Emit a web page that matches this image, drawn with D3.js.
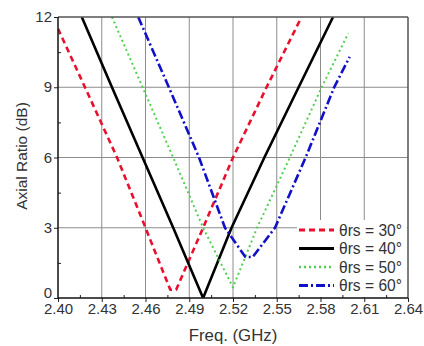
<!DOCTYPE html>
<meta charset="utf-8">
<title>Axial ratio vs frequency</title>
<style>
  body { margin: 0; padding: 0; background: #fff; }
  svg { display: block; font-family: "Liberation Sans", Arial, sans-serif; }
  .grid line { stroke: #8c8c8c; stroke-width: 1; }
  .axis text { font-size: 15px; fill: #333; }
  .axis path { display: none; }
  .axis line { stroke: #222; }
  .curve { fill: none; stroke-linejoin: round; }
  .legend text { font-size: 15.6px; fill: #333; }
</style>
<body>
<script src="https://cdn.jsdelivr.net/npm/d3@7"></script>
<script>
  // data
  const freqTicks = [2.40, 2.43, 2.46, 2.49, 2.52, 2.55, 2.58, 2.61, 2.64];
  const arTicks = [0, 3, 6, 9, 12];

  const theta30 = [[2.400, 11.5], [2.4185, 9], [2.4405, 6], [2.460, 3], [2.477, 0.35], [2.481, 0.35],
                   [2.4995, 3], [2.520, 6], [2.543, 9], [2.567, 12]];
  const theta40 = [[2.4163, 12], [2.437, 9], [2.458, 6], [2.479, 3], [2.4995, 0],
                   [2.519, 3], [2.5415, 6], [2.565, 9], [2.5886, 12]];
  const theta50 = [[2.437, 12], [2.458, 9], [2.479, 6], [2.4995, 3], [2.520, 0.45],
                   [2.5365, 3], [2.559, 6], [2.5808, 9], [2.599, 11.3]];
  const theta60 = [[2.455, 12], [2.476, 9], [2.4967, 6], [2.5145, 3], [2.5285, 1.75], [2.5335, 1.75],
                   [2.5488, 3], [2.5698, 6], [2.5894, 9], [2.600, 10.3]];

  const seriesNames = ["θrs = 30°", "θrs = 40°", "θrs = 50°", "θrs = 60°"];

  const series = [
    { name: seriesNames[0], data: theta30, color: "#e8102e", width: 2.6, dash: "6,4" },
    { name: seriesNames[1], data: theta40, color: "#000000", width: 2.6, dash: null },
    { name: seriesNames[2], data: theta50, color: "#4fd04f", width: 2, dash: "2,3" },
    { name: seriesNames[3], data: theta60, color: "#1010c8", width: 2.6, dash: "9,3,2,3" }
  ];

  const width = 424, height = 346;
  const mLeft = 58, mRight = 408, mTop = 17, mBottom = 298;

  const x = d3.scaleLinear().domain([2.40, 2.64]).range([mLeft, mRight]);
  const y = d3.scaleLinear().domain([0, 12]).range([mBottom, mTop]);

  const svg = d3.select("body").append("svg")
    .attr("width", width)
    .attr("height", height);

  // grid
  const grid = svg.append("g").attr("class", "grid");
  grid.selectAll(".gx").data(freqTicks.slice(1, -1)).enter().append("line")
    .attr("x1", d => x(d)).attr("x2", d => x(d))
    .attr("y1", mTop).attr("y2", mBottom);
  grid.selectAll(".gy").data(arTicks.slice(1, -1)).enter().append("line")
    .attr("x1", mLeft).attr("x2", mRight)
    .attr("y1", d => y(d)).attr("y2", d => y(d));

  svg.append("defs").append("clipPath").attr("id", "plot")
    .append("rect").attr("x", mLeft).attr("y", mTop)
    .attr("width", mRight - mLeft).attr("height", mBottom - mTop);

  const line = d3.line().x(d => x(d[0])).y(d => y(d[1]));

  svg.append("g").attr("clip-path", "url(#plot)")
    .selectAll("path").data(series).enter().append("path")
    .attr("class", "curve")
    .attr("d", d => line(d.data))
    .attr("stroke", d => d.color)
    .attr("stroke-width", d => d.width)
    .attr("stroke-dasharray", d => d.dash);

  // legend, white box hides the grid behind it
  const lg = svg.append("g").attr("class", "legend");
  lg.append("rect")
    .attr("x", 297).attr("y", 220).attr("width", mRight - 298).attr("height", mBottom - 221)
    .attr("fill", "#fff");
  const rows = lg.selectAll(".row").data(series).enter().append("g")
    .attr("transform", (d, i) => `translate(0,${230 + i * 18.5})`);
  rows.append("line")
    .attr("x1", 299).attr("x2", 334).attr("y1", 0).attr("y2", 0)
    .attr("stroke", d => d.color)
    .attr("stroke-width", d => d.width + 0.6)
    .attr("stroke-dasharray", d => d.dash);
  rows.append("text")
    .attr("x", 339).attr("y", 5.5)
    .text(d => d.name);

  // frame: left/bottom dark, top/right gray
  svg.append("line").attr("x1", mLeft).attr("x2", mRight).attr("y1", mTop).attr("y2", mTop)
    .attr("stroke", "#555").attr("stroke-width", 1.5);
  svg.append("line").attr("x1", mRight).attr("x2", mRight).attr("y1", mTop).attr("y2", mBottom)
    .attr("stroke", "#555").attr("stroke-width", 1.5);

  // minor ticks (inward)
  const minorX = d3.range(freqTicks.length - 1).map(i => (freqTicks[i] + freqTicks[i + 1]) / 2);
  const minorY = d3.range(arTicks.length - 1).map(i => (arTicks[i] + arTicks[i + 1]) / 2);

  svg.append("g").attr("class", "axis")
    .attr("transform", `translate(0,${mBottom})`)
    .call(d3.axisBottom(x).tickValues(minorX).tickSize(-3).tickFormat(""));
  svg.append("g").attr("class", "axis")
    .attr("transform", `translate(${mLeft},0)`)
    .call(d3.axisLeft(y).tickValues(minorY).tickSize(-3).tickFormat(""));

  svg.append("g").attr("class", "axis")
    .attr("transform", `translate(0,${mBottom})`)
    .call(d3.axisBottom(x).tickValues(freqTicks).tickSize(4).tickPadding(1).tickFormat(d3.format(".2f")));
  svg.append("g").attr("class", "axis")
    .attr("transform", `translate(${mLeft},0)`)
    .call(d3.axisLeft(y).tickValues(arTicks).tickSize(4).tickPadding(2).tickFormat(d3.format("d")))
    .selectAll("text").attr("dy", d => d === 0 ? "-0.05em" : "0.3em");

  svg.append("line").attr("x1", mLeft).attr("x2", mRight).attr("y1", mBottom).attr("y2", mBottom)
    .attr("stroke", "#111").attr("stroke-width", 1.5);
  svg.append("line").attr("x1", mLeft).attr("x2", mLeft).attr("y1", mTop).attr("y2", mBottom)
    .attr("stroke", "#111").attr("stroke-width", 1.5);

  // axis titles
  svg.append("text")
    .attr("x", 233).attr("y", 341)
    .attr("text-anchor", "middle")
    .style("font-size", "16.8px").style("fill", "#333")
    .text("Freq. (GHz)");
  svg.append("text")
    .attr("transform", `translate(27,156) rotate(-90)`)
    .attr("text-anchor", "middle")
    .style("font-size", "15.5px").style("fill", "#333")
    .text("Axial Ratio (dB)");
</script>
